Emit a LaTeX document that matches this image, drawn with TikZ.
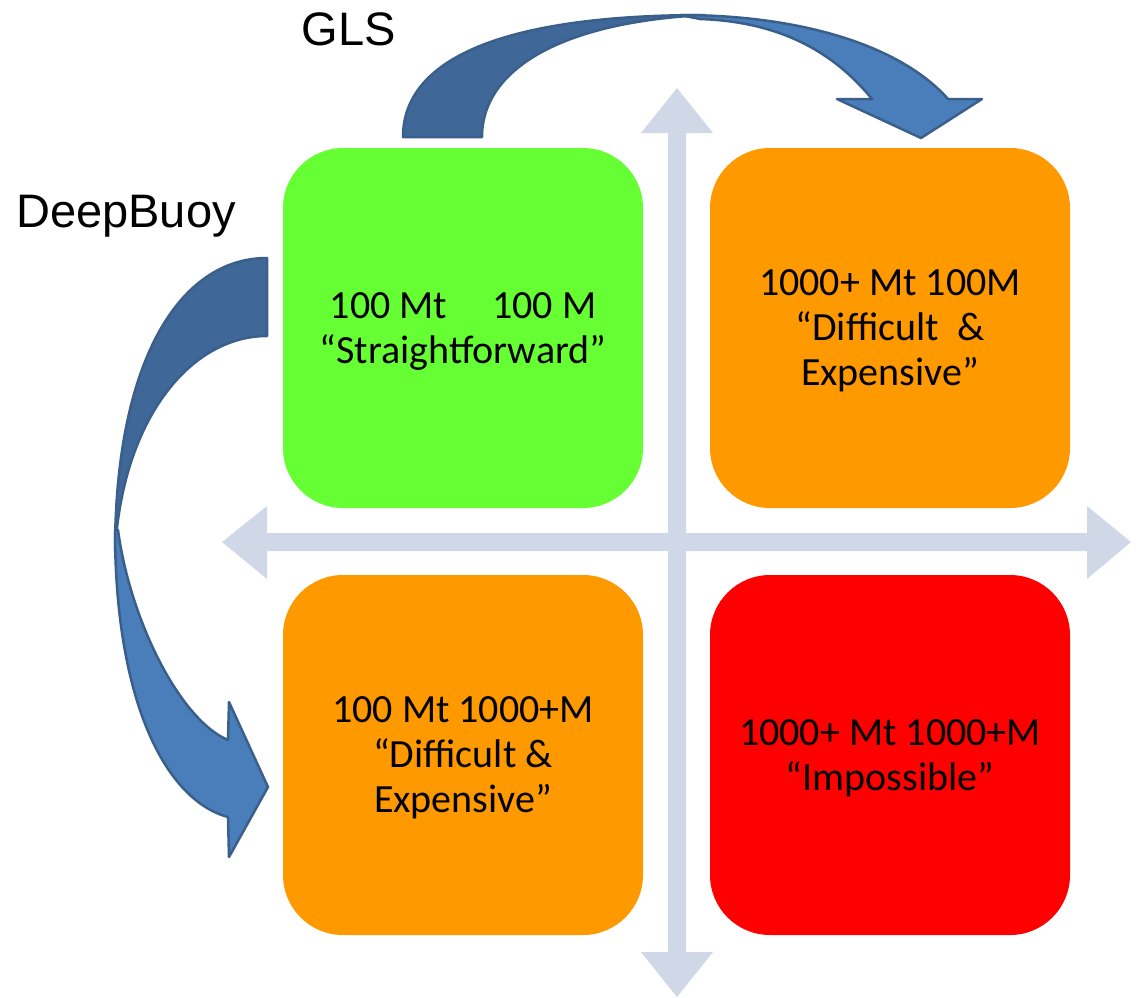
\documentclass[tikz,border=0pt]{standalone}
\usepackage{fontspec}
\setmainfont{Carlito}
\newfontfamily\arialf{Liberation Sans}
\definecolor{axisc}{HTML}{D0D8E8}
\definecolor{qgreen}{HTML}{66FF33}
\definecolor{qorange}{HTML}{FF9900}
\definecolor{qred}{HTML}{FF0000}
\definecolor{arrdark}{HTML}{3F6797}
\definecolor{arrlight}{HTML}{4A7EBB}
\definecolor{arrline}{HTML}{3A5F8B}
\begin{document}
\begin{tikzpicture}[x=1pt,y=-1pt,
 quad/.style={rounded corners=60pt, minimum width=360pt, minimum height=360pt, align=center,
   font=\fontsize{40}{45}\selectfont, inner sep=0pt},
 qtext/.style={align=center, font=\fontsize{40}{45}\selectfont, inner sep=0pt, yshift=-3pt},
 axis/.style={fill=axisc, draw=none},
 bandd/.style={fill=arrdark, draw=arrline, line width=2.5pt, line join=round},
 bandl/.style={fill=arrlight, draw=arrline, line width=2.5pt, line join=round},
 lab/.style={font=\arialf\fontsize{47}{56}\selectfont, anchor=base, inner sep=0pt}]
\useasboundingbox (0,0) rectangle (1138,997);
% axes
\fill[axis] (222,542) -- (267,506) -- (267,533) -- (1087,533) -- (1087,506) -- (1131,542)
  -- (1087,579) -- (1087,551) -- (267,551) -- (267,579) -- cycle;
\fill[axis] (677,88) -- (713,133) -- (686,133) -- (686,952) -- (713,952) -- (677,997)
  -- (641,952) -- (668,952) -- (668,133) -- (641,133) -- cycle;
% quadrants
\node[quad, fill=qgreen] (q1) at (463,328) {};
\node[quad, fill=qorange] (q2) at (890,328) {};
\node[quad, fill=qorange] (q3) at (463,755) {};
\node[quad, fill=qred] (q4) at (890,755) {};
\node[qtext] (t1) at (q1.center) {100 Mt\hspace{45pt}100 M\\“Straightforward”};
\node[qtext] (t2) at (q2.center) {1000+ Mt 100M\\“Difficult\ \ \&\\Expensive”};
\node[qtext] (t3) at (q3.center) {100 Mt 1000+M\\“Difficult \&\\Expensive”};
\node[qtext] (t4) at (q4.center) {1000+ Mt 1000+M\\“Impossible”};
% GLS curved arrow
\path[bandd] (403,137) .. controls (403,60) and (500,15) .. (705,15)
  .. controls (560,22) and (482,70) .. (482,137) -- cycle;
\path[bandl] (680,15) .. controls (800,15) and (900,45) .. (948,99) -- (982,99) -- (921,138)
  -- (837,99) -- (872,99) .. controls (840,60) and (790,22) .. (700,19) -- cycle;
% DeepBuoy curved arrow
\path[bandd] (267,258) .. controls (180,258) and (115,360) .. (115,552)
  .. controls (122,420) and (190,336) .. (267,336) -- cycle;
\path[bandl] (115,530) .. controls (115,700) and (165,800) .. (228,817) -- (229,857) -- (268,787)
  -- (229,702) -- (228,740) .. controls (180,720) and (130,620) .. (118,530) -- cycle;
% labels
\node[lab] (gls) at (349,45) {GLS};
\node[lab] (deep) at (126,227) {DeepBuoy};
\end{tikzpicture}
\end{document}
